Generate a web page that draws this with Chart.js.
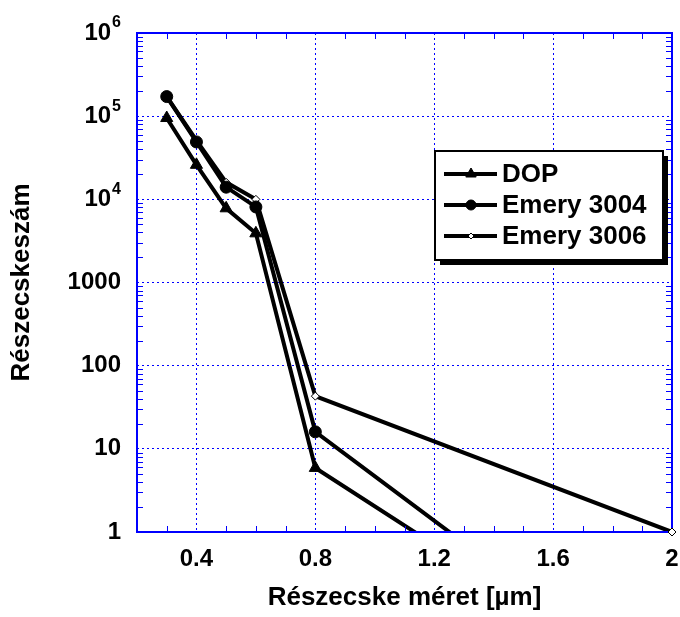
<!DOCTYPE html>
<html>
<head>
<meta charset="utf-8">
<script src="https://cdn.jsdelivr.net/npm/chart.js@4"></script>
<style>
  html, body { margin: 0; padding: 0; background: #fff; }
  #wrap { width: 680px; height: 617px; }
</style>
</head>
<body>
<div id="wrap"><canvas id="chart-particles"></canvas></div>
<script>
// particle size [um] and counts
const sizes = [0.3, 0.4, 0.5, 0.6, 0.8, 2];
const dop = [95000, 26000, 7800, 3900, 5.9, 0.01];
const emery3004 = [172000, 49000, 14000, 8100, 16, 0.01];
const emery3006 = [172000, 51000, 16000, 10000, 43, 1];
const seriesNames = ['DOP', 'Emery 3004', 'Emery 3006'];
const xTicks = [0.4, 0.8, 1.2, 1.6, 2];
const yTicks = [1, 10, 100, 1000, 1e4, 1e5, 1e6];

const BLUE = '#0000ff';
const FONT = '"Liberation Sans", Arial, sans-serif';

const toPoints = vals => vals.map((v, i) => ({x: sizes[i], y: v}));

// inward minor ticks, box border, tick labels (y with superscripts), legend
const decoPlugin = {
  id: 'deco',
  afterDraw(chart) {
    const ctx = chart.ctx;
    const a = chart.chartArea;
    const xs = chart.scales.x, ys = chart.scales.y;
    ctx.save();
    ctx.strokeStyle = BLUE;
    ctx.lineWidth = 1;
    ctx.beginPath();
    // y minor ticks
    for (let d = 0; d < 6; d++) {
      for (let k = 2; k <= 9; k++) {
        const py = Math.round(ys.getPixelForValue(k * Math.pow(10, d))) + 0.5;
        ctx.moveTo(a.left, py); ctx.lineTo(a.left + 6, py);
        ctx.moveTo(a.right, py); ctx.lineTo(a.right - 6, py);
      }
    }
    // x minor ticks
    for (let i = 3; i < 20; i++) {
      if (i % 4 === 0) continue;
      const px = Math.round(xs.getPixelForValue(i / 10)) + 0.5;
      ctx.moveTo(px, a.bottom); ctx.lineTo(px, a.bottom - 6);
      ctx.moveTo(px, a.top); ctx.lineTo(px, a.top + 6);
    }
    ctx.stroke();
    ctx.lineWidth = 2;
    ctx.strokeRect(a.left, a.top, a.right - a.left, a.bottom - a.top);

    // last 3006 marker sits on the corner, redraw it over the frame
    const m = chart.getDatasetMeta(2).data;
    const last = m[m.length - 1];
    ctx.fillStyle = '#fff';
    ctx.strokeStyle = '#000';
    ctx.lineWidth = 1;
    Chart.helpers.drawPoint(ctx, {pointStyle: 'rectRot', radius: 4, rotation: 0, borderWidth: 1}, last.x, last.y);

    ctx.fillStyle = '#000';
    // x tick labels
    ctx.font = 'bold 24px ' + FONT;
    ctx.textAlign = 'center';
    ctx.textBaseline = 'middle';
    xTicks.forEach(v => {
      ctx.fillText(String(v), xs.getPixelForValue(v), a.bottom + 27);
    });

    // y tick labels
    ctx.textAlign = 'right';
    const xr = a.left - 16;
    yTicks.forEach(v => {
      const py = ys.getPixelForValue(v);
      const p = Math.round(Math.log10(v));
      if (p < 4) {
        ctx.font = 'bold 24px ' + FONT;
        ctx.fillText(String(v), xr, py);
      } else {
        ctx.font = 'bold 16px ' + FONT;
        const sw = ctx.measureText(String(p)).width;
        ctx.fillText(String(p), xr, py - 10);
        ctx.font = 'bold 24px ' + FONT;
        ctx.fillText('10', xr - sw - 1, py);
      }
    });

    // legend
    const lx = 435, ly = 151, lw = 228, lh = 109;
    ctx.fillStyle = '#000';
    ctx.fillRect(lx + 5, ly + 5, lw, lh);
    ctx.fillStyle = '#fff';
    ctx.fillRect(lx, ly, lw, lh);
    ctx.strokeStyle = '#000';
    ctx.lineWidth = 2;
    ctx.strokeRect(lx, ly, lw, lh);
    const rows = [174, 205, 236];
    const legendRadius = [6, 5, 3];
    rows.forEach((ry, i) => {
      const ds = chart.data.datasets[i];
      ctx.strokeStyle = '#000';
      ctx.lineWidth = 4;
      ctx.beginPath();
      ctx.moveTo(444, ry); ctx.lineTo(497, ry);
      ctx.stroke();
      ctx.fillStyle = ds.pointBackgroundColor;
      ctx.strokeStyle = ds.pointBorderColor;
      ctx.lineWidth = ds.pointBorderWidth;
      Chart.helpers.drawPoint(ctx, {
        pointStyle: ds.pointStyle, radius: legendRadius[i],
        rotation: 0, borderWidth: ds.pointBorderWidth
      }, 471, ry);
      ctx.fillStyle = '#000';
      ctx.font = 'bold 26px ' + FONT;
      ctx.textAlign = 'left';
      ctx.textBaseline = 'middle';
      ctx.fillText(seriesNames[i], 502, ry + 1);
    });
    ctx.restore();
  }
};

new Chart(document.getElementById('chart-particles'), {
  type: 'line',
  data: {
    datasets: [
      {
        label: seriesNames[0], data: toPoints(dop),
        borderColor: '#000', borderWidth: 4,
        pointStyle: 'triangle', pointRadius: 7,
        pointBackgroundColor: '#000', pointBorderColor: '#000', pointBorderWidth: 1
      },
      {
        label: seriesNames[1], data: toPoints(emery3004),
        borderColor: '#000', borderWidth: 4,
        pointStyle: 'circle', pointRadius: 6,
        pointBackgroundColor: '#000', pointBorderColor: '#000', pointBorderWidth: 1
      },
      {
        label: seriesNames[2], data: toPoints(emery3006),
        borderColor: '#000', borderWidth: 4,
        pointStyle: 'rectRot', pointRadius: 4,
        pointBackgroundColor: '#fff', pointBorderColor: '#000', pointBorderWidth: 1
      }
    ]
  },
  options: {
    responsive: true,
    maintainAspectRatio: false,
    animation: false,
    layout: { padding: { left: 0, top: 33, right: 8, bottom: 0 } },
    plugins: { legend: { display: false }, tooltip: { enabled: false } },
    scales: {
      x: {
        type: 'linear', min: 0.2, max: 2,
        afterBuildTicks: s => { s.ticks = xTicks.map(v => ({value: v})); },
        afterFit: s => { s.height = 85; },
        grid: { color: BLUE, lineWidth: 1, drawTicks: false },
        border: { display: false, dash: [2, 3] },
        ticks: { display: false },
        title: {
          display: true, text: 'Részecske méret [µm]', color: '#000',
          font: { family: FONT, size: 26, weight: 'bold' },
          padding: { top: 0, bottom: 4 }
        }
      },
      y: {
        type: 'logarithmic', min: 1, max: 1e6,
        afterBuildTicks: s => { s.ticks = yTicks.map(v => ({value: v})); },
        afterFit: s => { s.width = 137; },
        grid: { color: BLUE, lineWidth: 1, drawTicks: false },
        border: { display: false, dash: [2, 3] },
        ticks: { display: false },
        title: {
          display: true, text: 'Részecskeszám', color: '#000',
          font: { family: FONT, size: 26, weight: 'bold' },
          padding: { top: 6, bottom: 0 }
        }
      }
    }
  },
  plugins: [decoPlugin]
});
</script>
</body>
</html>
